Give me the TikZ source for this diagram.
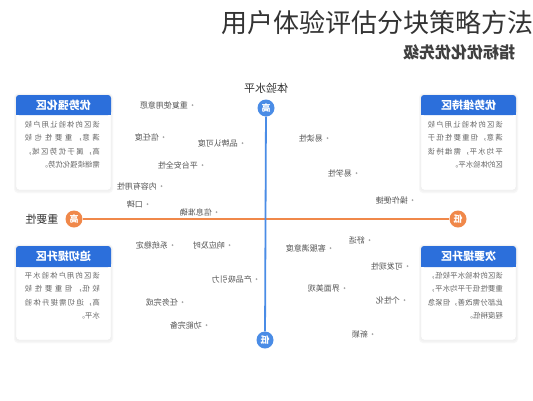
\documentclass[tikz,border=0pt]{standalone}
\usepackage{fontspec}
\usepackage{graphicx}
\setmainfont{Noto Sans CJK SC}
\definecolor{hblue}{HTML}{2C6FDB}
\definecolor{ablue}{HTML}{4A8CE6}
\definecolor{aorange}{HTML}{F0884A}
\definecolor{itemc}{HTML}{555555}
\definecolor{bodyc}{HTML}{666666}
\definecolor{titlec}{HTML}{333333}
\newcommand\mir[1]{\reflectbox{#1}}
\newcommand\cardtext[1]{\reflectbox{\parbox[t]{75pt}{\XeTeXlinebreaklocale "zh"\XeTeXlinebreakskip=0pt plus 4pt\fontsize{7.4}{13.5}\selectfont #1}}}
\tikzset{
  itemtxt/.style={anchor=east, inner sep=0pt, text=itemc, font=\fontsize{8}{9}\selectfont},
  itemdot/.style={circle, fill=black!35, inner sep=0pt, minimum size=2pt},
  hdrtxt/.style={inner sep=0pt, text=white, font=\fontsize{11}{12}\selectfont\bfseries},
  bodytxt/.style={anchor=north east, inner sep=0pt, text=bodyc},
  axcirc/.style={circle, inner sep=0pt, minimum size=17pt, text=white, font=\fontsize{9}{10}\selectfont\bfseries},
  axlab/.style={inner sep=0pt, text=titlec, font=\fontsize{11}{12}\selectfont},
}
\newcommand\cardshape[1]{%
  \fill[black!3, rounded corners=4pt] (-2,-1.5) rectangle (97,#1+3);
  \fill[black!5, rounded corners=3pt] (-1,-0.5) rectangle (96,#1+1.5);
  \fill[white, draw=black!8, rounded corners=3pt] (0,0) rectangle (95,#1);
}
\begin{document}
\begin{tikzpicture}[x=1pt,y=-1pt]
\useasboundingbox (0,0) rectangle (533,400);
\fill[white] (0,0) rectangle (533,400);

% title
\node[anchor=west, inner sep=0pt, text=titlec, font=\fontsize{26}{27}\selectfont] (title) at (221,22.5) {用户体验评估分块策略方法};
\node[inner sep=0pt, text=black!75, font=\fontsize{16}{17}\selectfont\bfseries] (sub) at (459,52) {\mir{指标优化优先级}};

% cards
\begin{scope}[shift={(16,95)}]
  \cardshape{95}
  \fill[hblue, rounded corners=3pt] (0,0) rectangle (95,20);
  \fill[hblue] (0,10) rectangle (95,20);
  \node[hdrtxt] (h1) at (47.5,10) {\mir{优势强化区}};
  \node[bodytxt] (b1) at (84,26) {\cardtext{该区的体验让用户较\linebreak 满意，重要性也较\linebreak 高，属于优势区域，\linebreak 需继续强化优势。}};
\end{scope}
\begin{scope}[shift={(421,95)}]
  \cardshape{95}
  \fill[hblue, rounded corners=3pt] (0,0) rectangle (95,20);
  \fill[hblue] (0,10) rectangle (95,20);
  \node[hdrtxt] (h2) at (47.5,10) {\mir{优势维持区}};
  \node[bodytxt] (b2) at (82,26) {\cardtext{该区的体验让用户较\linebreak 满意，但重要性低于\linebreak 平均水平，需维持该\linebreak 区的体验水平。}};
\end{scope}
\begin{scope}[shift={(16,246)}]
  \cardshape{94}
  \fill[hblue, rounded corners=3pt] (0,0) rectangle (95,21);
  \fill[hblue] (0,10) rectangle (95,21);
  \node[hdrtxt] (h3) at (47.5,10.5) {\mir{迫切提升区}};
  \node[bodytxt] (b3) at (84,26) {\cardtext{该区的用户体验水平\linebreak 较低，但重要性较\linebreak 高，迫切需提升体验\linebreak 水平。}};
\end{scope}
\begin{scope}[shift={(421,246)}]
  \cardshape{94}
  \fill[hblue, rounded corners=3pt] (0,0) rectangle (95,21);
  \fill[hblue] (0,10) rectangle (95,21);
  \node[hdrtxt] (h4) at (47.5,10.5) {\mir{次要提升区}};
  \node[bodytxt] (b4) at (82,26) {\cardtext{该区的体验水平较低，\linebreak 重要性低于平均水平，\linebreak 此部分需改善，但紧急\linebreak 程度稍低。}};
\end{scope}

% axes
\node[axcirc, fill=aorange] (lft) at (74,219) {\mir{高}};
\node[axcirc, fill=aorange] (rgt) at (458,219) {\mir{低}};
\node[axcirc, fill=ablue] (top) at (266,108) {\mir{高}};
\node[axcirc, fill=ablue] (bot) at (265,340) {\mir{低}};
\draw[aorange, line width=1.6pt] (lft) -- (rgt);
\draw[ablue, line width=1.8pt] (top) -- (bot);
\node[axlab] (vlab) at (266,88) {\mir{体验水平}};
\node[axlab] (hlab) at (42,219) {\mir{重要性}};

% items
\foreach \n/\x/\y/\t in {
  i1/188/105/重复使用意愿, i2/159/137/信任度, i3/238/143/品牌认可度,
  i4/198/165/平台安全性, i5/157/186/内容有用性, i6/143/204/口碑,
  i7/212/212/信息准确, i8/323/138/易读性, i9/352/173/易学性,
  i10/408/200/操作便捷, i11/168/245/系统稳定, i12/225/245/响应及时,
  i13/252/279/产品吸引力, i14/178/302/任务完成, i15/202/325/功能完备,
  i16/365/240/舒适, i17/326/248/客服满意度, i18/403/266/可发现性,
  i19/340/288/界面美观, i20/400/300/个性化, i21/368/334/新颖}{
  \node[itemtxt] (\n) at (\x,\y) {\mir{\t}};
  \node[itemdot] (\n d) at ([xshift=4.5pt]\n.east) {};
}
\end{tikzpicture}
\end{document}
